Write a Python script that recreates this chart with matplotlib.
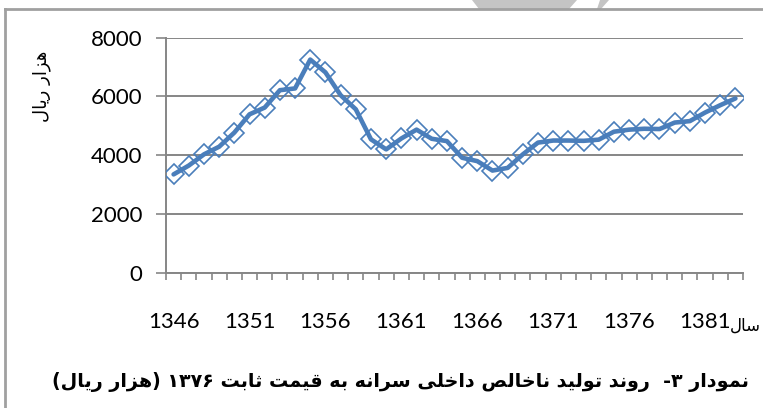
import re
import matplotlib
matplotlib.use('Agg')
import matplotlib.pyplot as plt
from matplotlib.patches import Polygon
import numpy as np

# data to plot
years = list(range(1346, 1384))
gdp_per_capita = [3350, 3650, 4030, 4290, 4770, 5390, 5620, 6210, 6270, 7250,
                  6815, 6040, 5560, 4540, 4200, 4570, 4870, 4560, 4480, 3915,
                  3800, 3480, 3570, 4030, 4430, 4500, 4500, 4490, 4530, 4800,
                  4870, 4900, 4890, 5110, 5160, 5450, 5700, 5930]
label_years = [1346, 1351, 1356, 1361, 1366, 1371, 1376, 1381]
y_ticks = [0, 2000, 4000, 6000, 8000]

title_text = 'نمودار ۳-  روند تولید ناخالص داخلی سرانه به قیمت ثابت ۱۳۷۶ (هزار ریال)'
ylabel_text = 'هزار ریال'
xlabel_text = 'سال'

# matplotlib does no Arabic shaping or bidi, so use presentation forms:
# isolated, final, initial, medial
FORMS = {
    'ا': ('\uFE8D', '\uFE8E', None, None),
    'ب': ('\uFE8F', '\uFE90', '\uFE91', '\uFE92'),
    'ت': ('\uFE95', '\uFE96', '\uFE97', '\uFE98'),
    'ث': ('\uFE99', '\uFE9A', '\uFE9B', '\uFE9C'),
    'خ': ('\uFEA5', '\uFEA6', '\uFEA7', '\uFEA8'),
    'د': ('\uFEA9', '\uFEAA', None, None),
    'ر': ('\uFEAD', '\uFEAE', None, None),
    'ز': ('\uFEAF', '\uFEB0', None, None),
    'س': ('\uFEB1', '\uFEB2', '\uFEB3', '\uFEB4'),
    'ص': ('\uFEB9', '\uFEBA', '\uFEBB', '\uFEBC'),
    'ق': ('\uFED5', '\uFED6', '\uFED7', '\uFED8'),
    'ل': ('\uFEDD', '\uFEDE', '\uFEDF', '\uFEE0'),
    'م': ('\uFEE1', '\uFEE2', '\uFEE3', '\uFEE4'),
    'ن': ('\uFEE5', '\uFEE6', '\uFEE7', '\uFEE8'),
    'ه': ('\uFEE9', '\uFEEA', '\uFEEB', '\uFEEC'),
    'و': ('\uFEED', '\uFEEE', None, None),
    'ی': ('\uFBFC', '\uFBFD', '\uFBFE', '\uFBFF'),
}
DIGITS = '0123456789\u06F0\u06F1\u06F2\u06F3\u06F4\u06F5\u06F6\u06F7\u06F8\u06F9'


def shape(text):
    out = []
    for i, c in enumerate(text):
        if c not in FORMS:
            out.append(c)
            continue
        prev = text[i - 1] if i > 0 else ''
        nxt = text[i + 1] if i + 1 < len(text) else ''
        jp = prev in FORMS and FORMS[prev][2] is not None
        jn = FORMS[c][2] is not None and nxt in FORMS
        iso, fin, ini, med = FORMS[c]
        out.append(med if (jp and jn) else fin if jp else ini if jn else iso)
    return ''.join(out)


def rtl(text):
    # visual order: reverse everything except digit runs, mirror brackets
    tokens = re.findall('[%s]+|[^%s]+' % (DIGITS, DIGITS), shape(text))
    swap = str.maketrans('()', ')(')
    return ''.join(t if t[0] in DIGITS else t[::-1].translate(swap)
                   for t in reversed(tokens))


W, H = 763, 408
fig = plt.figure(figsize=(W / 100, H / 100), dpi=100)
ax = fig.add_axes([166 / W, 1 - 273 / H, (743 - 166) / W, (273 - 37.5) / H])

grey = '#868686'
blue = '#4A7EBB'

x = np.arange(len(years)) + 0.5
ax.plot(x, gdp_per_capita, color=blue, linewidth=3.3, solid_joinstyle='round',
        solid_capstyle='round', zorder=3)
ax.plot(x, gdp_per_capita, linestyle='none', marker='D', markersize=10,
        markerfacecolor='none', markeredgecolor=blue, markeredgewidth=1.2, zorder=4)

ax.set_xlim(0, len(years))
ax.set_ylim(0, 8000)
ax.set_yticks(y_ticks)
ax.set_yticklabels([str(v) for v in y_ticks])
ax.yaxis.grid(True, color=grey, linewidth=1.4)
ax.set_axisbelow(True)

# tick marks between categories, labels at category centres
ax.set_xticks(np.arange(len(years) + 1))
ax.set_xticklabels([])
ax.set_xticks([years.index(y) + 0.5 for y in label_years], minor=True)
ax.set_xticklabels([str(y) for y in label_years], minor=True)
ax.tick_params(axis='x', which='major', length=5, width=1.2, color=grey, direction='out')
ax.tick_params(axis='x', which='minor', length=0, pad=28)
ax.tick_params(axis='y', length=7, width=1.2, color=grey, pad=10)

for lab in ax.get_xticklabels(minor=True) + ax.get_yticklabels():
    lab.set_fontfamily('Lato')
    lab.set_fontsize(16)

for s in ['top', 'right']:
    ax.spines[s].set_visible(False)
ax.spines['left'].set_color(grey)
ax.spines['bottom'].set_color(grey)
ax.spines['left'].set_linewidth(1.4)
ax.spines['bottom'].set_linewidth(1.4)

fig.text(42 / W, 1 - 86 / H, rtl(ylabel_text), rotation=90, ha='center', va='center',
         fontsize=13, family='DejaVu Sans')
fig.text(761 / W, 1 - 326 / H, rtl(xlabel_text), ha='right', va='center',
         fontsize=12, family='DejaVu Sans')
fig.text(400 / W, 1 - 382 / H, rtl(title_text), ha='center', va='center',
         fontsize=13.8, family='DejaVu Sans', fontweight='bold')

# outer frame and faint shape at the top edge
fig.add_artist(plt.Line2D([5 / W, 5 / W], [0, 1 - 9 / H], color='#A0A0A0', linewidth=2))
fig.add_artist(plt.Line2D([5 / W, 1], [1 - 9 / H, 1 - 9 / H], color='#A0A0A0', linewidth=2))
fig.add_artist(Polygon([(472 / W, 1), (577 / W, 1), (569 / W, 1 - 9 / H), (479 / W, 1 - 9 / H)],
                       closed=True, facecolor='#C4C4C4', edgecolor='none',
                       transform=fig.transFigure))
fig.add_artist(Polygon([(600 / W, 1), (609 / W, 1), (601 / W, 1 - 9 / H), (597 / W, 1 - 9 / H)],
                       closed=True, facecolor='#C4C4C4', edgecolor='none',
                       transform=fig.transFigure))

fig.savefig('out.png', dpi=100)
